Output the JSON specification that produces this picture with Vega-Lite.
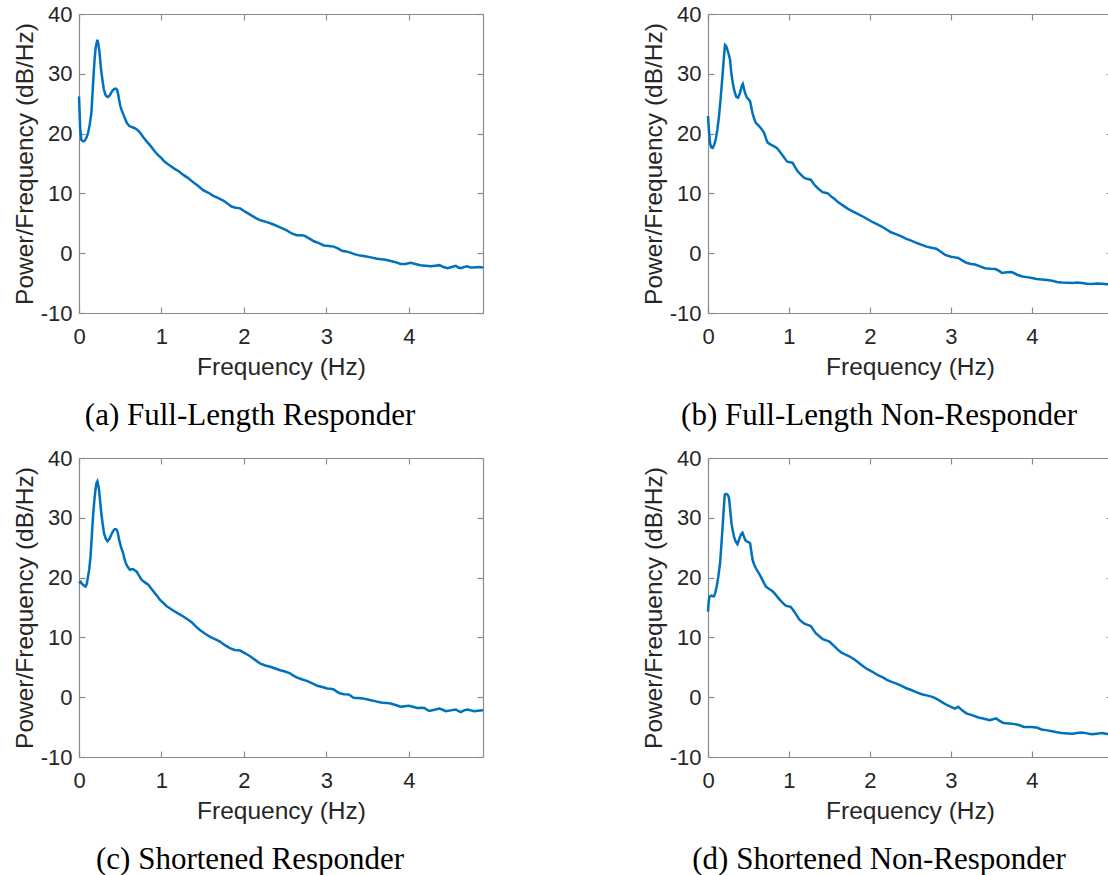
{
  "$schema": "https://vega.github.io/schema/vega-lite/v6.json",
  "padding": {"left": 12, "top": 3, "right": 0, "bottom": 0},
  "datasets": {
    "a": [{"f":0,"p":26.2},{"f":0.014,"p":21},{"f":0.028,"p":18.95},{"f":0.05,"p":18.7},{"f":0.069,"p":18.8},{"f":0.09,"p":19.3},{"f":0.11,"p":20.1},{"f":0.13,"p":21.5},{"f":0.15,"p":23.4},{"f":0.165,"p":27},{"f":0.178,"p":30.1},{"f":0.19,"p":32.6},{"f":0.203,"p":34.5},{"f":0.223,"p":35.7},{"f":0.235,"p":35},{"f":0.25,"p":33.4},{"f":0.265,"p":31},{"f":0.284,"p":29},{"f":0.3,"p":27.5},{"f":0.32,"p":26.5},{"f":0.335,"p":26.2},{"f":0.353,"p":26.1},{"f":0.373,"p":26.4},{"f":0.393,"p":26.9},{"f":0.414,"p":27.3},{"f":0.434,"p":27.5},{"f":0.45,"p":27.5},{"f":0.462,"p":27.3},{"f":0.475,"p":26.6},{"f":0.487,"p":25.6},{"f":0.5,"p":24.7},{"f":0.515,"p":24},{"f":0.535,"p":23.3},{"f":0.555,"p":22.6},{"f":0.58,"p":21.8},{"f":0.608,"p":21.3},{"f":0.64,"p":21.1},{"f":0.677,"p":20.9},{"f":0.71,"p":20.6},{"f":0.738,"p":20.2},{"f":0.78,"p":19.4},{"f":0.82,"p":18.7},{"f":0.87,"p":17.9},{"f":0.92,"p":17.0},{"f":0.96,"p":16.4},{"f":1.0,"p":15.9},{"f":1.03,"p":15.4},{"f":1.06,"p":15.1},{"f":1.11,"p":14.6},{"f":1.16,"p":14.1},{"f":1.21,"p":13.7},{"f":1.265,"p":13.1},{"f":1.32,"p":12.6},{"f":1.39,"p":11.8},{"f":1.45,"p":11.2},{"f":1.51,"p":10.5},{"f":1.57,"p":10.1},{"f":1.63,"p":9.6},{"f":1.69,"p":9.2},{"f":1.75,"p":8.8},{"f":1.8,"p":8.3},{"f":1.85,"p":7.8},{"f":1.9,"p":7.6},{"f":1.955,"p":7.5},{"f":2.02,"p":6.9},{"f":2.08,"p":6.4},{"f":2.14,"p":5.9},{"f":2.2,"p":5.5},{"f":2.28,"p":5.2},{"f":2.36,"p":4.8},{"f":2.44,"p":4.3},{"f":2.52,"p":3.8},{"f":2.58,"p":3.3},{"f":2.64,"p":3.0},{"f":2.7,"p":3.0},{"f":2.74,"p":2.9},{"f":2.8,"p":2.4},{"f":2.85,"p":2.0},{"f":2.91,"p":1.7},{"f":2.97,"p":1.3},{"f":3.03,"p":1.2},{"f":3.09,"p":1.1},{"f":3.14,"p":0.8},{"f":3.19,"p":0.4},{"f":3.24,"p":0.3},{"f":3.29,"p":0.1},{"f":3.35,"p":-0.2},{"f":3.41,"p":-0.4},{"f":3.47,"p":-0.5},{"f":3.54,"p":-0.7},{"f":3.6,"p":-0.9},{"f":3.66,"p":-1.0},{"f":3.72,"p":-1.1},{"f":3.78,"p":-1.3},{"f":3.84,"p":-1.5},{"f":3.9,"p":-1.8},{"f":3.96,"p":-1.8},{"f":4.02,"p":-1.6},{"f":4.08,"p":-1.8},{"f":4.14,"p":-2.0},{"f":4.2,"p":-2.1},{"f":4.27,"p":-2.2},{"f":4.32,"p":-2.1},{"f":4.37,"p":-2.0},{"f":4.42,"p":-2.3},{"f":4.47,"p":-2.5},{"f":4.52,"p":-2.3},{"f":4.57,"p":-2.1},{"f":4.6,"p":-2.4},{"f":4.63,"p":-2.5},{"f":4.67,"p":-2.3},{"f":4.71,"p":-2.2},{"f":4.75,"p":-2.4},{"f":4.79,"p":-2.4},{"f":4.84,"p":-2.3},{"f":4.9,"p":-2.4}],
    "b": [{"f":0,"p":22.96},{"f":0.012,"p":20.5},{"f":0.025,"p":18.4},{"f":0.04,"p":17.7},{"f":0.058,"p":17.6},{"f":0.075,"p":18.1},{"f":0.095,"p":19.0},{"f":0.115,"p":20.6},{"f":0.136,"p":22.9},{"f":0.157,"p":26},{"f":0.178,"p":29.5},{"f":0.195,"p":32.5},{"f":0.21,"p":34.8},{"f":0.225,"p":34.6},{"f":0.24,"p":34.0},{"f":0.257,"p":33.2},{"f":0.273,"p":32.3},{"f":0.285,"p":30.5},{"f":0.3,"p":29},{"f":0.318,"p":27.6},{"f":0.335,"p":26.7},{"f":0.352,"p":26.1},{"f":0.372,"p":26.0},{"f":0.39,"p":26.6},{"f":0.405,"p":27.3},{"f":0.418,"p":28.0},{"f":0.43,"p":28.3},{"f":0.445,"p":27.5},{"f":0.46,"p":26.7},{"f":0.475,"p":26.2},{"f":0.488,"p":25.9},{"f":0.505,"p":25.7},{"f":0.52,"p":25.4},{"f":0.535,"p":24.4},{"f":0.55,"p":23.4},{"f":0.57,"p":22.5},{"f":0.59,"p":21.8},{"f":0.62,"p":21.4},{"f":0.653,"p":20.9},{"f":0.675,"p":20.5},{"f":0.694,"p":20.1},{"f":0.715,"p":19.2},{"f":0.736,"p":18.5},{"f":0.77,"p":18.2},{"f":0.8,"p":18.0},{"f":0.85,"p":17.6},{"f":0.885,"p":17.0},{"f":0.92,"p":16.4},{"f":0.95,"p":15.8},{"f":0.98,"p":15.3},{"f":1.015,"p":15.2},{"f":1.045,"p":15.1},{"f":1.075,"p":14.4},{"f":1.107,"p":13.7},{"f":1.15,"p":13.1},{"f":1.19,"p":12.6},{"f":1.23,"p":12.4},{"f":1.27,"p":12.3},{"f":1.3,"p":11.7},{"f":1.33,"p":11.2},{"f":1.37,"p":10.7},{"f":1.415,"p":10.2},{"f":1.448,"p":10.1},{"f":1.48,"p":10.0},{"f":1.52,"p":9.5},{"f":1.56,"p":9.1},{"f":1.61,"p":8.5},{"f":1.665,"p":8.0},{"f":1.72,"p":7.5},{"f":1.77,"p":7.1},{"f":1.83,"p":6.7},{"f":1.89,"p":6.3},{"f":1.955,"p":5.8},{"f":2.02,"p":5.3},{"f":2.08,"p":4.9},{"f":2.14,"p":4.5},{"f":2.2,"p":4.0},{"f":2.26,"p":3.5},{"f":2.32,"p":3.2},{"f":2.39,"p":2.8},{"f":2.45,"p":2.4},{"f":2.51,"p":2.1},{"f":2.58,"p":1.7},{"f":2.64,"p":1.4},{"f":2.7,"p":1.1},{"f":2.76,"p":0.9},{"f":2.82,"p":0.75},{"f":2.88,"p":0.2},{"f":2.93,"p":-0.3},{"f":3.0,"p":-0.6},{"f":3.05,"p":-0.7},{"f":3.09,"p":-0.8},{"f":3.14,"p":-1.2},{"f":3.19,"p":-1.6},{"f":3.25,"p":-1.8},{"f":3.3,"p":-1.9},{"f":3.36,"p":-2.2},{"f":3.42,"p":-2.5},{"f":3.49,"p":-2.6},{"f":3.55,"p":-2.65},{"f":3.6,"p":-3.0},{"f":3.63,"p":-3.3},{"f":3.69,"p":-3.2},{"f":3.75,"p":-3.15},{"f":3.82,"p":-3.6},{"f":3.88,"p":-3.9},{"f":3.94,"p":-4.0},{"f":4.0,"p":-4.15},{"f":4.06,"p":-4.3},{"f":4.12,"p":-4.4},{"f":4.19,"p":-4.5},{"f":4.25,"p":-4.6},{"f":4.31,"p":-4.8},{"f":4.37,"p":-4.9},{"f":4.44,"p":-4.95},{"f":4.5,"p":-5.0},{"f":4.56,"p":-4.9},{"f":4.62,"p":-5.0},{"f":4.68,"p":-5.1},{"f":4.74,"p":-5.15},{"f":4.8,"p":-5.05},{"f":4.87,"p":-5.1},{"f":4.93,"p":-5.2},{"f":4.99,"p":-5.15}],
    "c": [{"f":0,"p":19.05},{"f":0.02,"p":19.3},{"f":0.035,"p":19.0},{"f":0.05,"p":18.8},{"f":0.065,"p":18.6},{"f":0.08,"p":18.5},{"f":0.095,"p":19.0},{"f":0.11,"p":20.2},{"f":0.125,"p":21.5},{"f":0.14,"p":23.5},{"f":0.155,"p":26.8},{"f":0.17,"p":30.2},{"f":0.185,"p":32.8},{"f":0.2,"p":34.7},{"f":0.212,"p":35.8},{"f":0.223,"p":36.1},{"f":0.233,"p":35.5},{"f":0.243,"p":34.7},{"f":0.256,"p":32.8},{"f":0.27,"p":30.8},{"f":0.287,"p":29},{"f":0.304,"p":27.4},{"f":0.325,"p":26.5},{"f":0.345,"p":26.1},{"f":0.37,"p":26.5},{"f":0.393,"p":27.2},{"f":0.414,"p":27.8},{"f":0.434,"p":28.1},{"f":0.448,"p":28.1},{"f":0.462,"p":27.9},{"f":0.475,"p":27.2},{"f":0.487,"p":26.3},{"f":0.51,"p":25.1},{"f":0.535,"p":24.1},{"f":0.55,"p":23.2},{"f":0.568,"p":22.4},{"f":0.59,"p":21.8},{"f":0.617,"p":21.3},{"f":0.637,"p":21.4},{"f":0.657,"p":21.4},{"f":0.68,"p":21.2},{"f":0.7,"p":21.0},{"f":0.73,"p":20.3},{"f":0.76,"p":19.6},{"f":0.8,"p":19.2},{"f":0.84,"p":18.8},{"f":0.88,"p":18.1},{"f":0.92,"p":17.4},{"f":0.95,"p":16.9},{"f":0.98,"p":16.3},{"f":1.02,"p":15.8},{"f":1.06,"p":15.25},{"f":1.11,"p":14.8},{"f":1.165,"p":14.3},{"f":1.215,"p":13.9},{"f":1.265,"p":13.5},{"f":1.32,"p":13.0},{"f":1.37,"p":12.5},{"f":1.42,"p":11.8},{"f":1.47,"p":11.2},{"f":1.53,"p":10.6},{"f":1.59,"p":10.1},{"f":1.65,"p":9.7},{"f":1.71,"p":9.3},{"f":1.77,"p":8.7},{"f":1.83,"p":8.2},{"f":1.89,"p":7.9},{"f":1.955,"p":7.8},{"f":2.02,"p":7.3},{"f":2.08,"p":6.8},{"f":2.14,"p":6.2},{"f":2.2,"p":5.6},{"f":2.26,"p":5.3},{"f":2.32,"p":5.1},{"f":2.38,"p":4.8},{"f":2.44,"p":4.5},{"f":2.5,"p":4.3},{"f":2.56,"p":4.0},{"f":2.6,"p":3.6},{"f":2.64,"p":3.3},{"f":2.7,"p":3.0},{"f":2.77,"p":2.7},{"f":2.83,"p":2.3},{"f":2.89,"p":1.9},{"f":2.95,"p":1.7},{"f":3.01,"p":1.45},{"f":3.05,"p":1.4},{"f":3.09,"p":1.3},{"f":3.13,"p":0.9},{"f":3.17,"p":0.6},{"f":3.22,"p":0.5},{"f":3.27,"p":0.45},{"f":3.3,"p":0.2},{"f":3.33,"p":-0.1},{"f":3.38,"p":-0.15},{"f":3.44,"p":-0.2},{"f":3.49,"p":-0.35},{"f":3.54,"p":-0.5},{"f":3.6,"p":-0.7},{"f":3.66,"p":-0.9},{"f":3.72,"p":-0.95},{"f":3.78,"p":-1.06},{"f":3.84,"p":-1.3},{"f":3.9,"p":-1.6},{"f":3.95,"p":-1.5},{"f":4.0,"p":-1.45},{"f":4.05,"p":-1.6},{"f":4.1,"p":-1.8},{"f":4.15,"p":-1.75},{"f":4.19,"p":-1.8},{"f":4.22,"p":-2.1},{"f":4.25,"p":-2.3},{"f":4.31,"p":-2.1},{"f":4.37,"p":-1.9},{"f":4.41,"p":-2.1},{"f":4.45,"p":-2.35},{"f":4.51,"p":-2.2},{"f":4.57,"p":-2.05},{"f":4.6,"p":-2.3},{"f":4.63,"p":-2.5},{"f":4.67,"p":-2.2},{"f":4.71,"p":-2.05},{"f":4.75,"p":-2.2},{"f":4.79,"p":-2.35},{"f":4.84,"p":-2.25},{"f":4.9,"p":-2.2}],
    "d": [{"f":0,"p":14.3},{"f":0.008,"p":15.8},{"f":0.017,"p":16.8},{"f":0.04,"p":17.0},{"f":0.058,"p":16.9},{"f":0.074,"p":16.9},{"f":0.09,"p":17.5},{"f":0.107,"p":18.5},{"f":0.128,"p":20.2},{"f":0.149,"p":22.4},{"f":0.163,"p":25},{"f":0.178,"p":28},{"f":0.193,"p":31.2},{"f":0.207,"p":33.9},{"f":0.22,"p":34.0},{"f":0.23,"p":34.0},{"f":0.245,"p":33.8},{"f":0.26,"p":33.3},{"f":0.275,"p":31.2},{"f":0.29,"p":29.1},{"f":0.305,"p":27.9},{"f":0.32,"p":26.9},{"f":0.34,"p":26.1},{"f":0.364,"p":25.6},{"f":0.38,"p":26.2},{"f":0.397,"p":26.9},{"f":0.41,"p":27.3},{"f":0.426,"p":27.5},{"f":0.443,"p":26.9},{"f":0.46,"p":26.3},{"f":0.475,"p":26.1},{"f":0.488,"p":26.0},{"f":0.505,"p":25.9},{"f":0.52,"p":25.75},{"f":0.535,"p":24.4},{"f":0.55,"p":23.0},{"f":0.57,"p":22.2},{"f":0.59,"p":21.6},{"f":0.62,"p":20.9},{"f":0.65,"p":20.2},{"f":0.68,"p":19.4},{"f":0.715,"p":18.5},{"f":0.735,"p":18.3},{"f":0.756,"p":18.1},{"f":0.79,"p":17.8},{"f":0.82,"p":17.4},{"f":0.85,"p":16.9},{"f":0.88,"p":16.4},{"f":0.92,"p":15.8},{"f":0.96,"p":15.3},{"f":0.99,"p":15.2},{"f":1.02,"p":15.1},{"f":1.045,"p":14.7},{"f":1.066,"p":14.3},{"f":1.1,"p":13.6},{"f":1.128,"p":13.0},{"f":1.16,"p":12.6},{"f":1.19,"p":12.3},{"f":1.23,"p":12.1},{"f":1.27,"p":11.9},{"f":1.3,"p":11.3},{"f":1.33,"p":10.7},{"f":1.375,"p":10.2},{"f":1.417,"p":9.7},{"f":1.46,"p":9.5},{"f":1.5,"p":9.3},{"f":1.53,"p":8.9},{"f":1.56,"p":8.55},{"f":1.6,"p":8.0},{"f":1.645,"p":7.5},{"f":1.7,"p":7.1},{"f":1.75,"p":6.8},{"f":1.8,"p":6.4},{"f":1.85,"p":5.9},{"f":1.9,"p":5.35},{"f":1.955,"p":4.8},{"f":2.01,"p":4.4},{"f":2.06,"p":4.0},{"f":2.11,"p":3.6},{"f":2.16,"p":3.3},{"f":2.21,"p":2.9},{"f":2.26,"p":2.6},{"f":2.32,"p":2.3},{"f":2.39,"p":1.9},{"f":2.45,"p":1.5},{"f":2.51,"p":1.2},{"f":2.58,"p":0.8},{"f":2.64,"p":0.5},{"f":2.7,"p":0.3},{"f":2.76,"p":0.1},{"f":2.8,"p":-0.1},{"f":2.84,"p":-0.4},{"f":2.9,"p":-0.9},{"f":2.95,"p":-1.3},{"f":3.0,"p":-1.6},{"f":3.05,"p":-1.9},{"f":3.09,"p":-1.6},{"f":3.14,"p":-2.2},{"f":3.19,"p":-2.7},{"f":3.26,"p":-3.0},{"f":3.34,"p":-3.4},{"f":3.41,"p":-3.6},{"f":3.48,"p":-3.85},{"f":3.52,"p":-3.7},{"f":3.56,"p":-3.55},{"f":3.6,"p":-3.95},{"f":3.65,"p":-4.3},{"f":3.72,"p":-4.4},{"f":3.79,"p":-4.5},{"f":3.85,"p":-4.7},{"f":3.9,"p":-4.97},{"f":3.98,"p":-5.0},{"f":4.06,"p":-5.08},{"f":4.12,"p":-5.4},{"f":4.19,"p":-5.55},{"f":4.25,"p":-5.7},{"f":4.31,"p":-5.85},{"f":4.37,"p":-5.98},{"f":4.44,"p":-6.05},{"f":4.5,"p":-6.1},{"f":4.56,"p":-6.0},{"f":4.62,"p":-5.9},{"f":4.68,"p":-6.05},{"f":4.74,"p":-6.2},{"f":4.8,"p":-6.1},{"f":4.87,"p":-5.98},{"f":4.93,"p":-6.15},{"f":4.99,"p":-6.2}]
  },
  "vconcat": [
    {
      "hconcat": [
        {
          "width": 404, "height": 299,
          "data": {"name": "a"},
          "title": {"text": "(a) Full-Length Responder"},
          "layer": [
            {"mark": {"type": "line", "color": "#0072BD", "strokeWidth": 2.5},
             "encoding": {
               "x": {"field": "f", "type": "quantitative", "scale": {"domain": [0, 4.9], "nice": false, "zero": false}, "axis": {"values": [0,1,2,3,4], "title": "Frequency (Hz)"}},
               "y": {"field": "p", "type": "quantitative", "scale": {"domain": [-10, 40], "nice": false, "zero": false}, "axis": {"values": [-10,0,10,20,30,40], "title": "Power/Frequency (dB/Hz)"}}}},
            {"mark": {"type": "line", "opacity": 0},
             "encoding": {
               "x": {"field": "f", "type": "quantitative", "scale": {"domain": [0, 4.9], "nice": false, "zero": false}, "axis": {"orient": "top", "values": [0,1,2,3,4], "labels": false, "title": null}},
               "y": {"field": "p", "type": "quantitative", "scale": {"domain": [-10, 40], "nice": false, "zero": false}, "axis": {"orient": "right", "values": [-10,0,10,20,30,40], "labels": false, "title": null}}}}
          ],
          "resolve": {"scale": {"x": "independent", "y": "independent"}, "axis": {"x": "independent", "y": "independent"}}
        },
        {
          "width": 404, "height": 299,
          "data": {"name": "b"},
          "title": {"text": "(b) Full-Length Non-Responder"},
          "layer": [
            {"mark": {"type": "line", "color": "#0072BD", "strokeWidth": 2.5},
             "encoding": {
               "x": {"field": "f", "type": "quantitative", "scale": {"domain": [0, 4.99], "nice": false, "zero": false}, "axis": {"values": [0,1,2,3,4], "title": "Frequency (Hz)"}},
               "y": {"field": "p", "type": "quantitative", "scale": {"domain": [-10, 40], "nice": false, "zero": false}, "axis": {"values": [-10,0,10,20,30,40], "title": "Power/Frequency (dB/Hz)"}}}},
            {"mark": {"type": "line", "opacity": 0},
             "encoding": {
               "x": {"field": "f", "type": "quantitative", "scale": {"domain": [0, 4.99], "nice": false, "zero": false}, "axis": {"orient": "top", "values": [0,1,2,3,4], "labels": false, "title": null}},
               "y": {"field": "p", "type": "quantitative", "scale": {"domain": [-10, 40], "nice": false, "zero": false}, "axis": {"orient": "right", "values": [-10,0,10,20,30,40], "labels": false, "title": null}}}}
          ],
          "resolve": {"scale": {"x": "independent", "y": "independent"}, "axis": {"x": "independent", "y": "independent"}}
        }
      ],
      "spacing": 153
    },
    {
      "hconcat": [
        {
          "width": 404, "height": 299,
          "data": {"name": "c"},
          "title": {"text": "(c) Shortened Responder"},
          "layer": [
            {"mark": {"type": "line", "color": "#0072BD", "strokeWidth": 2.5},
             "encoding": {
               "x": {"field": "f", "type": "quantitative", "scale": {"domain": [0, 4.9], "nice": false, "zero": false}, "axis": {"values": [0,1,2,3,4], "title": "Frequency (Hz)"}},
               "y": {"field": "p", "type": "quantitative", "scale": {"domain": [-10, 40], "nice": false, "zero": false}, "axis": {"values": [-10,0,10,20,30,40], "title": "Power/Frequency (dB/Hz)"}}}},
            {"mark": {"type": "line", "opacity": 0},
             "encoding": {
               "x": {"field": "f", "type": "quantitative", "scale": {"domain": [0, 4.9], "nice": false, "zero": false}, "axis": {"orient": "top", "values": [0,1,2,3,4], "labels": false, "title": null}},
               "y": {"field": "p", "type": "quantitative", "scale": {"domain": [-10, 40], "nice": false, "zero": false}, "axis": {"orient": "right", "values": [-10,0,10,20,30,40], "labels": false, "title": null}}}}
          ],
          "resolve": {"scale": {"x": "independent", "y": "independent"}, "axis": {"x": "independent", "y": "independent"}}
        },
        {
          "width": 404, "height": 299,
          "data": {"name": "d"},
          "title": {"text": "(d) Shortened Non-Responder"},
          "layer": [
            {"mark": {"type": "line", "color": "#0072BD", "strokeWidth": 2.5},
             "encoding": {
               "x": {"field": "f", "type": "quantitative", "scale": {"domain": [0, 4.99], "nice": false, "zero": false}, "axis": {"values": [0,1,2,3,4], "title": "Frequency (Hz)"}},
               "y": {"field": "p", "type": "quantitative", "scale": {"domain": [-10, 40], "nice": false, "zero": false}, "axis": {"values": [-10,0,10,20,30,40], "title": "Power/Frequency (dB/Hz)"}}}},
            {"mark": {"type": "line", "opacity": 0},
             "encoding": {
               "x": {"field": "f", "type": "quantitative", "scale": {"domain": [0, 4.99], "nice": false, "zero": false}, "axis": {"orient": "top", "values": [0,1,2,3,4], "labels": false, "title": null}},
               "y": {"field": "p", "type": "quantitative", "scale": {"domain": [-10, 40], "nice": false, "zero": false}, "axis": {"orient": "right", "values": [-10,0,10,20,30,40], "labels": false, "title": null}}}}
          ],
          "resolve": {"scale": {"x": "independent", "y": "independent"}, "axis": {"x": "independent", "y": "independent"}}
        }
      ],
      "spacing": 153
    }
  ],
  "spacing": 16,
  "config": {
    "background": "white",
    "locale": {"number": {"decimal": ".", "thousands": ",", "grouping": [3], "currency": ["$", ""], "minus": "-"}},
    "view": {"stroke": null},
    "axis": {
      "grid": false,
      "domainColor": "#8a8a8a", "domainWidth": 1.2,
      "tickColor": "#8a8a8a", "tickWidth": 1.2, "tickSize": -6,
      "labelFont": "Liberation Sans", "labelFontSize": 22, "labelColor": "#262626", "labelFlush": false, "labelOverlap": false,
      "titleFont": "Liberation Sans", "titleFontSize": 24.5, "titleFontWeight": "normal", "titleColor": "#262626"
    },
    "axisX": {"labelPadding": 19, "titlePadding": 8},
    "axisY": {"labelPadding": 13, "titlePadding": 3},
    "title": {"orient": "bottom", "anchor": "middle", "frame": "bounds", "font": "Liberation Serif", "fontSize": 31, "fontWeight": "normal", "color": "#000000", "offset": 22}
  }
}
